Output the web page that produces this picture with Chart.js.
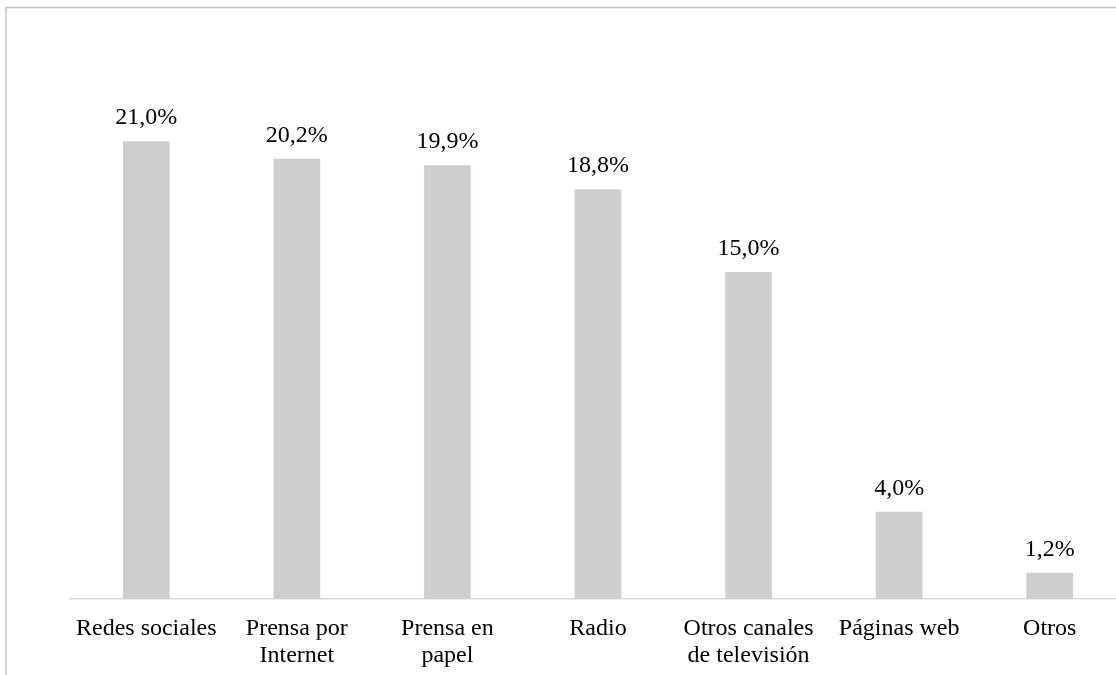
<!DOCTYPE html>
<html>
<head>
<meta charset="utf-8">
<script src="https://cdn.jsdelivr.net/npm/chart.js@4/dist/chart.umd.min.js"></script>
<style>
  html, body { margin: 0; padding: 0; background: #fff; overflow: hidden; }
  #wrap { position: relative; width: 1130px; height: 675px; }
</style>
</head>
<body>
<div id="wrap"><canvas id="c"></canvas></div>
<script>
const categories = ["Redes sociales", ["Prensa por", "Internet"], ["Prensa en", "papel"], "Radio", ["Otros canales", "de televisión"], "Páginas web", "Otros"];
const values = [21.0, 20.2, 19.9, 18.8, 15.0, 4.0, 1.2];
const valueLabels = ["21,0%", "20,2%", "19,9%", "18,8%", "15,0%", "4,0%", "1,2%"];

const frame = {
  id: 'frame',
  beforeDraw(chart) {
    const ctx = chart.ctx;
    ctx.save();
    ctx.strokeStyle = '#c3c3c3';
    ctx.lineWidth = 1.5;
    ctx.beginPath();
    ctx.moveTo(6, 675);
    ctx.lineTo(6, 7.5);
    ctx.lineTo(1130, 7.5);
    ctx.stroke();
    ctx.restore();
  }
};

const dataLabels = {
  id: 'dataLabels',
  afterDatasetsDraw(chart) {
    const ctx = chart.ctx;
    const meta = chart.getDatasetMeta(0);
    ctx.save();
    ctx.fillStyle = '#000';
    ctx.font = '24px "Liberation Serif"';
    ctx.textAlign = 'center';
    ctx.textBaseline = 'alphabetic';
    meta.data.forEach((bar, i) => {
      ctx.fillText(valueLabels[i], bar.x, bar.y - 17);
    });
    ctx.restore();
  }
};

new Chart(document.getElementById('c'), {
  type: 'bar',
  data: {
    labels: categories,
    datasets: [{
      data: values,
      backgroundColor: '#cfcdcd',
      borderWidth: 0,
      barPercentage: 0.31,
      categoryPercentage: 1.0
    }]
  },
  options: {
    responsive: true,
    maintainAspectRatio: false,
    animation: false,
    layout: { padding: { left: 71, right: 5, top: 54, bottom: 0 } },
    plugins: { legend: { display: false }, tooltip: { enabled: false } },
    scales: {
      x: {
        grid: { display: false, drawTicks: false },
        border: { display: true, color: '#d9d9d9', width: 1.5 },
        ticks: {
          color: '#000',
          font: { family: 'Liberation Serif', size: 24, lineHeight: 1.12 },
          padding: 16,
          maxRotation: 0,
          autoSkip: false
        },
        afterFit(scale) { scale.height = 76; }
      },
      y: {
        display: false,
        min: 0,
        max: 25
      }
    }
  },
  plugins: [frame, dataLabels]
});
</script>
</body>
</html>
